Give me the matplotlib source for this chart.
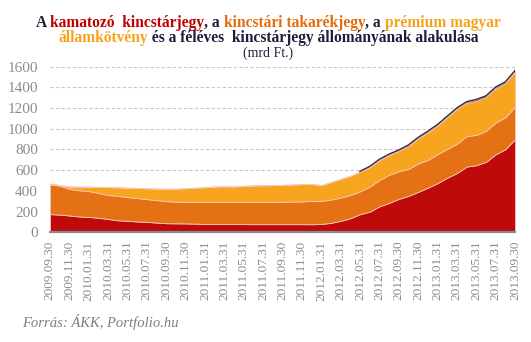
import numpy as np
import matplotlib
matplotlib.use('Agg')
import matplotlib.pyplot as plt

####### data (mrd Ft.) #######
months = ['2009.09.30', '2009.10.31', '2009.11.30', '2009.12.31',
          '2010.01.31', '2010.02.28', '2010.03.31', '2010.04.30', '2010.05.31', '2010.06.30',
          '2010.07.31', '2010.08.31', '2010.09.30', '2010.10.31', '2010.11.30', '2010.12.31',
          '2011.01.31', '2011.02.28', '2011.03.31', '2011.04.30', '2011.05.31', '2011.06.30',
          '2011.07.31', '2011.08.31', '2011.09.30', '2011.10.31', '2011.11.30', '2011.12.31',
          '2012.01.31', '2012.02.29', '2012.03.31', '2012.04.30', '2012.05.31', '2012.06.30',
          '2012.07.31', '2012.08.31', '2012.09.30', '2012.10.31', '2012.11.30', '2012.12.31',
          '2013.01.31', '2013.02.28', '2013.03.31', '2013.04.30', '2013.05.31', '2013.06.30',
          '2013.07.31', '2013.08.31', '2013.09.30']

# kamatozó kincstárjegy
kamatozo = [175, 170, 162, 152, 148, 140, 128, 115, 110, 104, 100, 93, 87, 86, 85, 83,
            80, 80, 80, 80, 78, 78, 78, 78, 78, 78, 78, 77,
            80, 90, 110, 135, 174, 199, 250, 283, 322, 352, 390, 430,
            475, 527, 572, 634, 648, 680, 754, 802, 900]
# kincstári takarékjegy
takarek = [287, 280, 258, 253, 250, 240, 232, 237, 230, 226, 220, 217, 213, 210, 209, 210,
           213, 213, 213, 213, 215, 215, 215, 216, 217, 218, 220, 225,
           222, 225, 225, 225, 221, 242, 255, 272, 268, 260, 275, 270,
           280, 278, 283, 296, 292, 300, 306, 309, 314]
# prémium magyar államkötvény
premium = [8, 5, 22, 35, 42, 58, 76, 82, 90, 98, 105, 112, 120, 125, 131, 137,
           142, 148, 151, 149, 155, 159, 161, 161, 163, 164, 167, 165,
           153, 170, 180, 185, 190, 187, 190, 190, 195, 220, 240, 265,
           275, 305, 335, 320, 330, 325, 330, 329, 336]
# féléves kincstárjegy
feleves = [0] * 32 + [4, 8, 10, 10, 10, 12, 12, 12, 12, 12, 12, 12, 14, 14, 14, 14, 14]

x = np.arange(len(months))

fig = plt.figure(figsize=(5.31, 3.42), dpi=100)
ax = fig.add_axes([0.094, 0.321, 0.876, 0.484])

ax.stackplot(x, kamatozo, takarek, premium, feleves,
             colors=['#BE0A0A', '#E47114', '#F7A41E', '#3A2A33'],
             edgecolor='#F5C8B8', linewidth=0.6)
# dark top line of the total
total = np.array(kamatozo) + np.array(takarek) + np.array(premium) + np.array(feleves)
ax.plot(x[32:], total[32:], color='#3A2A33', linewidth=1.0)

ax.set_xlim(0, len(months) - 1)
ax.set_ylim(0, 1600)
ax.set_yticks(np.arange(0, 1601, 200))
ax.grid(axis='y', color='#C8C8C8', linestyle=(0, (3, 2)), linewidth=0.8)
ax.set_axisbelow(True)
ax.set_xticks(x[::2])
ax.set_xticklabels(months[::2], rotation=90, fontsize=9.5, color='#8C8C8C',
                   family='Liberation Serif')
for lab in ax.get_yticklabels():
    lab.set_family('Liberation Serif')
    lab.set_fontsize(11)
    lab.set_color('#8C8C8C')
ax.tick_params(axis='both', length=0)
ax.tick_params(axis='y', pad=8.5)
ax.tick_params(axis='x', pad=6)
for s in ['top', 'right', 'left']:
    ax.spines[s].set_visible(False)
ax.spines['bottom'].set_color('#8C8C8C')
ax.spines['bottom'].set_linewidth(1.6)
ax.spines['bottom'].set_zorder(5)

# multicoloured title
dark = '#1E1E3C'
lines = [
    ([('A ', dark), ('kamatozó  kincstárjegy', '#C00000'), (', a ', dark),
      ('kincstári takarékjegy', '#E46C0A'), (', a ', dark), ('prémium magyar', '#F7A21B')],
     1 - 27 / 342, 'bold', 11.2),
    ([('államkötvény', '#F7A21B'), (' és a féléves  kincstárjegy állományának alakulása', dark)],
     1 - 42 / 342, 'bold', 11.2),
    ([('(mrd Ft.)', dark)], 1 - 57 / 342, 'normal', 10),
]
renderer = fig.canvas.get_renderer()
for parts, yy, wt, sz in lines:
    txts = [fig.text(0, yy, s, color=c, fontsize=sz, fontweight=wt,
                     family='Liberation Serif', va='baseline') for s, c in parts]
    widths = [t.get_window_extent(renderer).width / fig.bbox.width for t in txts]
    xx = 0.505 - sum(widths) / 2
    for t, w in zip(txts, widths):
        t.set_x(xx)
        xx += w

fig.text(22 / 531, 1 - 327 / 342, 'Forrás: ÁKK, Portfolio.hu', fontsize=10.5, style='italic',
         color='#7F7F7F', family='Liberation Serif', va='baseline')

fig.savefig('out.png', dpi=100)
